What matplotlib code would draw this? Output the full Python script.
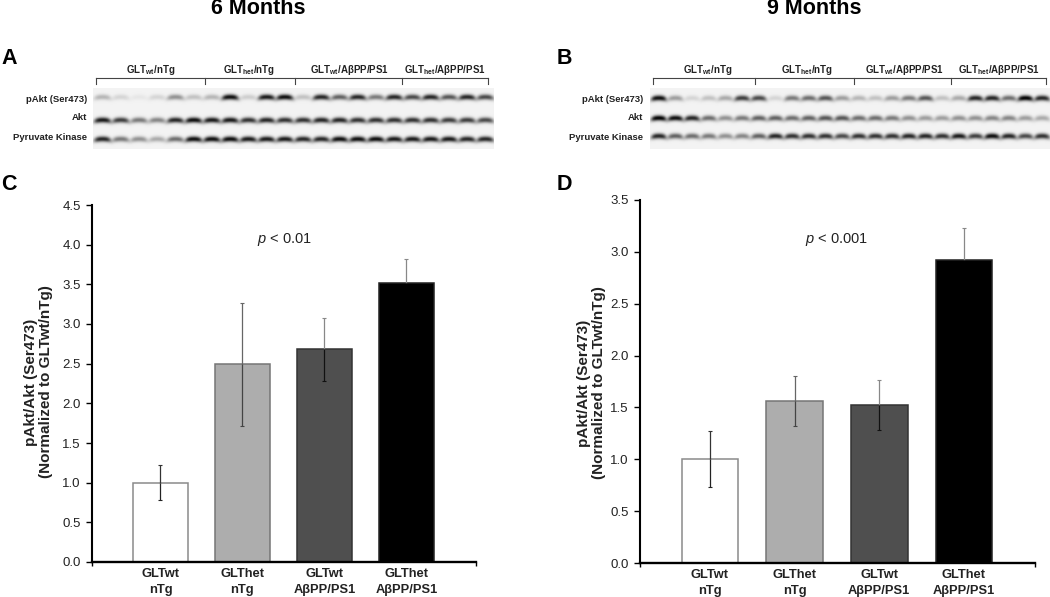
import numpy as np
import matplotlib
matplotlib.use("Agg")
import matplotlib.pyplot as plt

plt.rcParams["font.family"] = ["Liberation Sans", "DejaVu Sans"]
plt.rcParams["mathtext.fontset"] = "custom"
plt.rcParams["mathtext.rm"] = "Liberation Sans"
plt.rcParams["mathtext.it"] = "Liberation Sans:italic"
plt.rcParams["mathtext.bf"] = "Liberation Sans:bold"

W, H = 1050, 597

# ── Data ───────────────────────────────────────────────────────────────────
groups = ["GLTwt\nnTg", "GLThet\nnTg", "GLTwt\nAβPP/PS1", "GLThet\nAβPP/PS1"]
bar_colors = ["white", "#adadad", "#4f4f4f", "black"]
edge_colors = ["#8a8a8a", "#757575", "#333333", "#222222"]
err_up_colors = ["#333333", "#666666", "#888888", "#888888"]
err_low_colors = ["#222222", "#444444", "#111111", "#000000"]

means_6m = [1.0, 2.49, 2.68, 3.52]
errs_6m = [0.22, 0.77, 0.40, 0.30]
means_9m = [1.0, 1.56, 1.52, 2.92]
errs_9m = [0.27, 0.24, 0.24, 0.31]

# band darkness per lane, read by eye from the blots (0 = none, 1 = black)
a_pakt = [0.25, 0.12, 0.05, 0.12, 0.4, 0.2, 0.25, 0.95, 0.15, 0.9, 0.95, 0.2,
          0.85, 0.6, 0.85, 0.5, 0.85, 0.7, 0.85, 0.65, 0.85, 0.7]
a_akt = [0.9, 0.75, 0.5, 0.45, 0.85, 0.95, 0.9, 0.9, 0.8, 0.85, 0.8, 0.8,
         0.85, 0.85, 0.8, 0.8, 0.8, 0.8, 0.8, 0.75, 0.75, 0.7]
a_pk = [0.85, 0.5, 0.4, 0.3, 0.55, 0.95, 0.95, 0.95, 0.9, 0.9, 0.9, 0.85,
        0.85, 0.95, 0.95, 0.95, 0.9, 0.9, 0.9, 0.9, 0.85, 0.85]
b_pakt = [0.95, 0.35, 0.12, 0.2, 0.3, 0.75, 0.7, 0.12, 0.5, 0.55, 0.65, 0.35,
          0.25, 0.2, 0.35, 0.5, 0.65, 0.2, 0.3, 0.85, 0.85, 0.55, 1.0, 0.85]
b_akt = [1.0, 0.95, 0.85, 0.55, 0.4, 0.5, 0.6, 0.6, 0.55, 0.6, 0.65, 0.65,
         0.55, 0.55, 0.5, 0.4, 0.35, 0.35, 0.4, 0.4, 0.45, 0.45, 0.35, 0.3]
b_pk = [0.85, 0.6, 0.55, 0.5, 0.4, 0.45, 0.6, 0.85, 0.8, 0.8, 0.8, 0.7,
        0.8, 0.8, 0.8, 0.85, 0.85, 0.8, 0.9, 0.75, 0.95, 0.85, 0.7, 0.8]

row_names = ["pAkt (Ser473)", "Akt", "Pyruvate Kinase"]
blot_heads = [r"$\mathbf{GLT_{wt}}$/nTg", r"$\mathbf{GLT_{het}}$/nTg",
              r"$\mathbf{GLT_{wt}}$/AβPP/PS1", r"$\mathbf{GLT_{het}}$/AβPP/PS1"]


def px_axes(fig, x0, y0, x1, y1):
    # axes from pixel box, y measured from the top
    return fig.add_axes([x0 / W, 1 - y1 / H, (x1 - x0) / W, (y1 - y0) / H])


def blot(fig, box, rows, centers):
    x0, y0, x1, y1 = box
    ax = px_axes(fig, x0, y0, x1, y1)
    w, h = int(x1 - x0), int(y1 - y0)
    img = np.full((h, w), 0.95)
    xx, yy = np.meshgrid(np.arange(w), np.arange(h))
    for cy, row in zip(centers, rows):
        step = w / len(row)
        for i, v in enumerate(row):
            cx = (i + 0.5) * step
            yb = cy - 1.5 * (1 - ((xx - cx) / (step / 2)) ** 2)
            band = np.exp(-((xx - cx) / (step * 0.46)) ** 4 - ((yy - yb) / 2.8) ** 2)
            img = img * (1 - 0.97 * v * band)
    ax.imshow(img, cmap="gray", vmin=0, vmax=1, aspect="auto", interpolation="bilinear")
    ax.axis("off")


def bars(fig, box, means, errs, ymax, xlim):
    ax = px_axes(fig, *box)
    x = np.arange(len(means))
    ax.bar(x, means, width=0.67, color=bar_colors, edgecolor=edge_colors, linewidth=1.1, zorder=2)
    # upper and lower whisker get their own grey, no cap at the mean
    for i in x:
        top, low = means[i] + errs[i], means[i] - errs[i]
        ax.vlines(i, means[i], top, color=err_up_colors[i], lw=0.9, zorder=3)
        ax.vlines(i, low, means[i], color=err_low_colors[i], lw=0.9, zorder=3)
        ax.plot(i, top, marker="_", ms=3, mew=0.8, color=err_up_colors[i], zorder=3)
        ax.plot(i, low, marker="_", ms=3, mew=0.8, color=err_low_colors[i], zorder=3)
    ax.set_xlim(*xlim)
    ax.set_ylim(0, ymax)
    ticks = np.arange(0, ymax + 0.01, 0.5)
    ax.set_yticks(ticks)
    ax.set_yticklabels([f"{v:.1f}" for v in ticks], fontsize=9.5, color="#222222")
    ax.set_xticks(xlim)
    ax.set_xticklabels(["", ""])
    for s in ["top", "right"]:
        ax.spines[s].set_visible(False)
    ax.spines["left"].set_linewidth(1.5)
    ax.spines["bottom"].set_linewidth(1.7)
    ax.tick_params(axis="y", length=4, width=1, pad=4)
    ax.tick_params(axis="x", length=3, width=1)
    for cx, g in zip(x, groups):
        ax.annotate(g, (cx, 0), xytext=(0, -4), textcoords="offset points", ha="center", va="top",
                    fontsize=9.3, fontweight="bold", linespacing=1.48, color="#222222")
    return ax


fig = plt.figure(figsize=(W / 100, H / 100), dpi=100)


def ftext(x, y, s, **kw):
    # figure text placed in pixels from the top left
    kw.setdefault("va", "center")
    fig.text(x / W, 1 - y / H, s, **kw)


# ── Titles and panel letters ───────────────────────────────────────────────
ftext(258, 9, "6 Months", fontsize=15.5, fontweight="bold", ha="center")
ftext(814, 9, "9 Months", fontsize=15.5, fontweight="bold", ha="center")
for letter, lx, ly in [("A", 1, 58), ("B", 557, 58), ("C", 1, 185), ("D", 557, 185)]:
    ftext(lx, ly, letter, fontsize=15.5, fontweight="bold", ha="left")

# ── Blots ──────────────────────────────────────────────────────────────────
blot(fig, (93, 88, 494, 149), [a_pakt, a_akt, a_pk], [10, 33, 52])
blot(fig, (650, 88, 1050, 149), [b_pakt, b_akt, b_pk], [11, 31, 49])

over = px_axes(fig, 0, 0, W, H)
over.set_xlim(0, W)
over.set_ylim(H, 0)
over.axis("off")
over.patch.set_alpha(0)
for ticks in ([96, 205, 295, 402, 488], [653, 755, 854, 951, 1046]):
    over.plot([ticks[0], ticks[-1]], [78, 78], color="#444444", lw=0.8)
    for t in ticks:
        over.plot([t, t], [78, 84], color="#444444", lw=0.8)

for xs in ([151, 249, 350, 445], [708, 807, 905, 999]):
    for x, head in zip(xs, blot_heads):
        over.text(x, 70, head, fontsize=7, fontweight="bold", ha="center", va="center", color="#222222")

for rx, ys in [(87, [99, 118, 138]), (643, [99, 118, 137])]:
    for ry, name in zip(ys, row_names):
        over.text(rx, ry, name, fontsize=6.8, fontweight="bold", ha="right", va="center", color="#222222")

# ── Bar charts ─────────────────────────────────────────────────────────────
bars(fig, (92, 205, 476, 562), means_6m, errs_6m, 4.5, (-0.835, 3.85))
bars(fig, (640, 200, 1035, 563), means_9m, errs_9m, 3.5, (-0.826, 3.84))

for lx, ly in [(38.5, 382), (591.5, 383)]:
    ftext(lx, ly, "pAkt/Akt (Ser473)\n(Normalized to GLTwt/nTg)", fontsize=11, fontweight="bold",
          rotation=90, ha="center", linespacing=1.12, color="#222222")

ftext(284, 240, r"$\it{p}$ < 0.01", fontsize=10.5, ha="center", color="#222222")
ftext(836, 240, r"$\it{p}$ < 0.001", fontsize=10.5, ha="center", color="#222222")

fig.savefig("out.png", dpi=100)
